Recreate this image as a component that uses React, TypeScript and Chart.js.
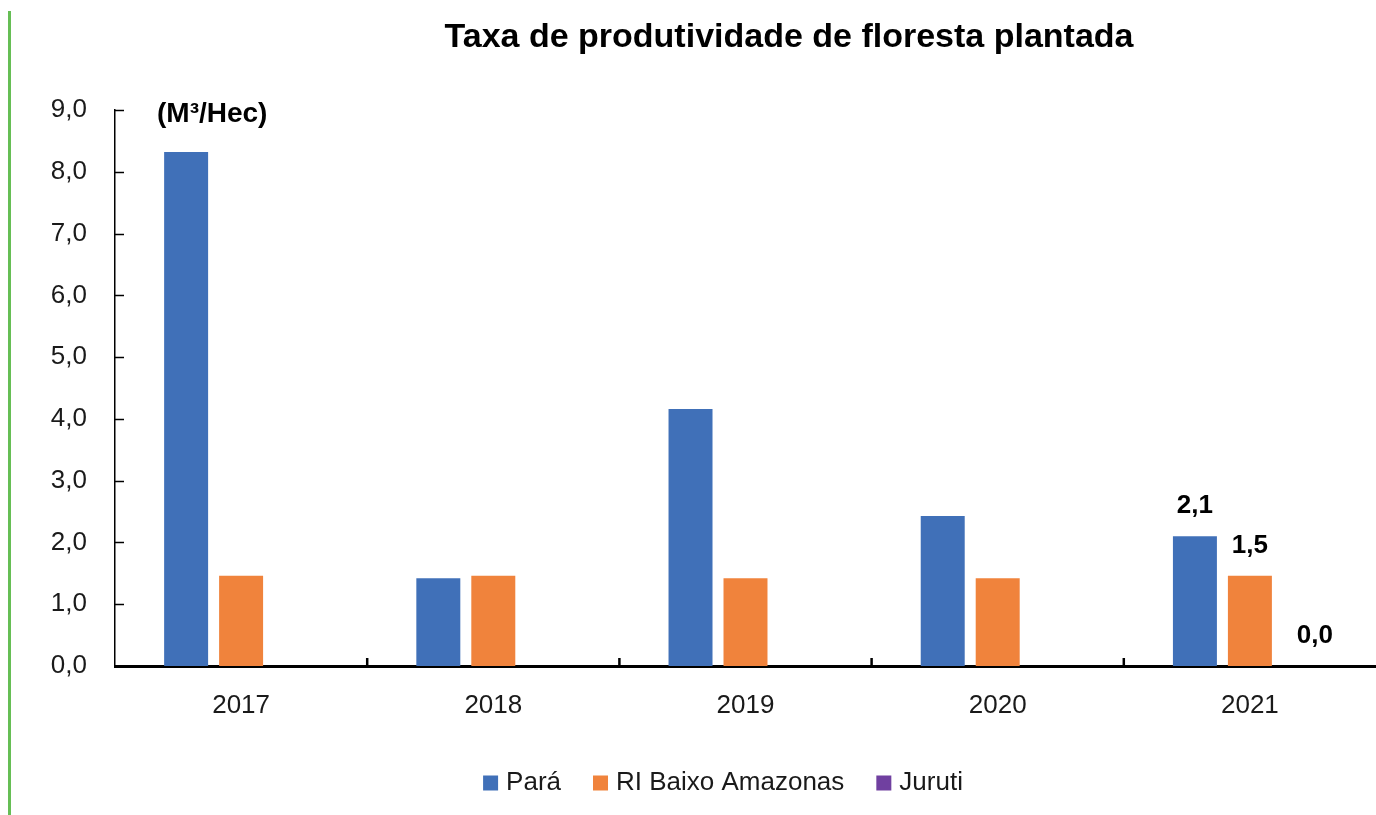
import React, { useEffect, useRef } from "react";
import { Chart, registerables } from "chart.js";

Chart.register(...registerables);

const chartTitle = "Taxa de produtividade de floresta plantada";
const unitLabel = "(M³/Hec)";
const categories = ["2017", "2018", "2019", "2020", "2021"];
const seriesNames = ["Pará", "RI Baixo Amazonas", "Juruti"];
const paraValues = [8.32, 1.42, 4.16, 2.43, 2.1];
const baixoAmazonasValues = [1.46, 1.46, 1.42, 1.42, 1.46];
const jurutiValues = [0, 0, 0, 0, 0];
const seriesColors = ["#4070B8", "#F0833C", "#7040A0"];
const labeledCategory = "2021";
const yMin = 0;
const yMax = 9;
const yStep = 1;

const FONT = '"Liberation Sans", Arial, sans-serif';
const fmt = (v: number) => v.toFixed(1).replace(".", ",");

const decorPlugin = {
  id: "decor",
  afterDraw(chart: any) {
    const ctx = chart.ctx as CanvasRenderingContext2D;
    const area = chart.chartArea;
    const ys = chart.scales.y;
    ctx.save();

    // left green rule
    ctx.strokeStyle = "#66BE55";
    ctx.lineWidth = 3;
    ctx.beginPath();
    ctx.moveTo(9.5, 11);
    ctx.lineTo(9.5, chart.height);
    ctx.stroke();

    // inward y ticks
    ctx.strokeStyle = "#000";
    ctx.lineWidth = 1.5;
    for (let v = yMin; v <= yMax; v += yStep) {
      const y = Math.round(ys.getPixelForValue(v)) + 0.5;
      ctx.beginPath();
      ctx.moveTo(area.left, y);
      ctx.lineTo(area.left + 9, y);
      ctx.stroke();
    }
    // inward x ticks at category boundaries
    ctx.lineWidth = 2.5;
    const n = categories.length;
    const cw = (area.right - area.left) / n;
    for (let i = 1; i < n; i++) {
      const x = area.left + cw * i;
      ctx.beginPath();
      ctx.moveTo(x, area.bottom - 8);
      ctx.lineTo(x, area.bottom);
      ctx.stroke();
    }

    // title
    ctx.fillStyle = "#000";
    ctx.font = `bold 34px ${FONT}`;
    ctx.textAlign = "center";
    ctx.textBaseline = "alphabetic";
    ctx.fillText(chartTitle, 789, 47);

    // unit label
    ctx.font = `bold 28px ${FONT}`;
    ctx.textAlign = "left";
    ctx.textBaseline = "middle";
    ctx.fillText(unitLabel, area.left + 42, area.top + 4);

    // data labels for the labeled category
    const idx = categories.indexOf(labeledCategory);
    ctx.font = `bold 26px ${FONT}`;
    ctx.textAlign = "center";
    ctx.textBaseline = "alphabetic";
    chart.data.datasets.forEach((ds: any, di: number) => {
      const meta = chart.getDatasetMeta(di);
      const el = meta.data[idx];
      if (!el) return;
      const v = ds.data[idx];
      ctx.fillText(fmt(v), el.x + (v === 0 ? 10 : 0), el.y - 23);
    });

    // legend
    ctx.font = `26px ${FONT}`;
    const box = 15;
    const gapText = 8;
    const gapItem = 32;
    const widths = seriesNames.map((s) => ctx.measureText(s).width);
    const total =
      widths.reduce((a, b) => a + b, 0) +
      seriesNames.length * (box + gapText) +
      (seriesNames.length - 1) * gapItem;
    let x = 723 - total / 2;
    const ly = 783;
    ctx.textAlign = "left";
    ctx.textBaseline = "middle";
    seriesNames.forEach((s, i) => {
      ctx.fillStyle = seriesColors[i];
      ctx.fillRect(x, ly - box / 2, box, box);
      x += box + gapText;
      ctx.fillStyle = "#1a1a1a";
      ctx.fillText(s, x, ly);
      x += widths[i] + gapItem;
    });

    ctx.restore();
  },
};

export default function App() {
  const ref = useRef<HTMLCanvasElement | null>(null);

  useEffect(() => {
    if (!ref.current) return;
    const seriesValues = [paraValues, baixoAmazonasValues, jurutiValues];
    const chart = new Chart(ref.current, {
      type: "bar",
      data: {
        labels: categories,
        datasets: seriesNames.map((name, i) => ({
          label: name,
          data: seriesValues[i],
          backgroundColor: seriesColors[i],
          borderWidth: 0,
          categoryPercentage: 0.654,
          barPercentage: 0.8,
        })),
      },
      options: {
        responsive: false,
        animation: false,
        layout: { padding: { top: 110, left: 0, right: 0, bottom: 0 } },
        plugins: {
          legend: { display: false },
          title: { display: false },
          tooltip: { enabled: false },
        },
        scales: {
          x: {
            grid: { display: false, drawTicks: false },
            border: { display: true, color: "#000", width: 3 },
            ticks: {
              font: { family: FONT, size: 26 },
              color: "#1a1a1a",
              padding: 24,
            },
            afterFit(scale: any) {
              scale.height = 149;
            },
          },
          y: {
            min: yMin,
            max: yMax,
            grid: { display: false, drawTicks: false },
            border: { display: true, color: "#000", width: 1.5 },
            ticks: {
              stepSize: yStep,
              font: { family: FONT, size: 26 },
              color: "#1a1a1a",
              padding: 28,
              callback: (v: any) => fmt(Number(v)),
            },
            afterFit(scale: any) {
              scale.width = 115;
            },
          },
        },
      },
      plugins: [decorPlugin],
    });
    return () => chart.destroy();
  }, []);

  return (
    <div style={{ position: "absolute", left: 0, top: 0, width: 1376, height: 815, background: "#fff" }}>
      <canvas ref={ref} width={1376} height={815} style={{ display: "block" }} />
    </div>
  );
}
